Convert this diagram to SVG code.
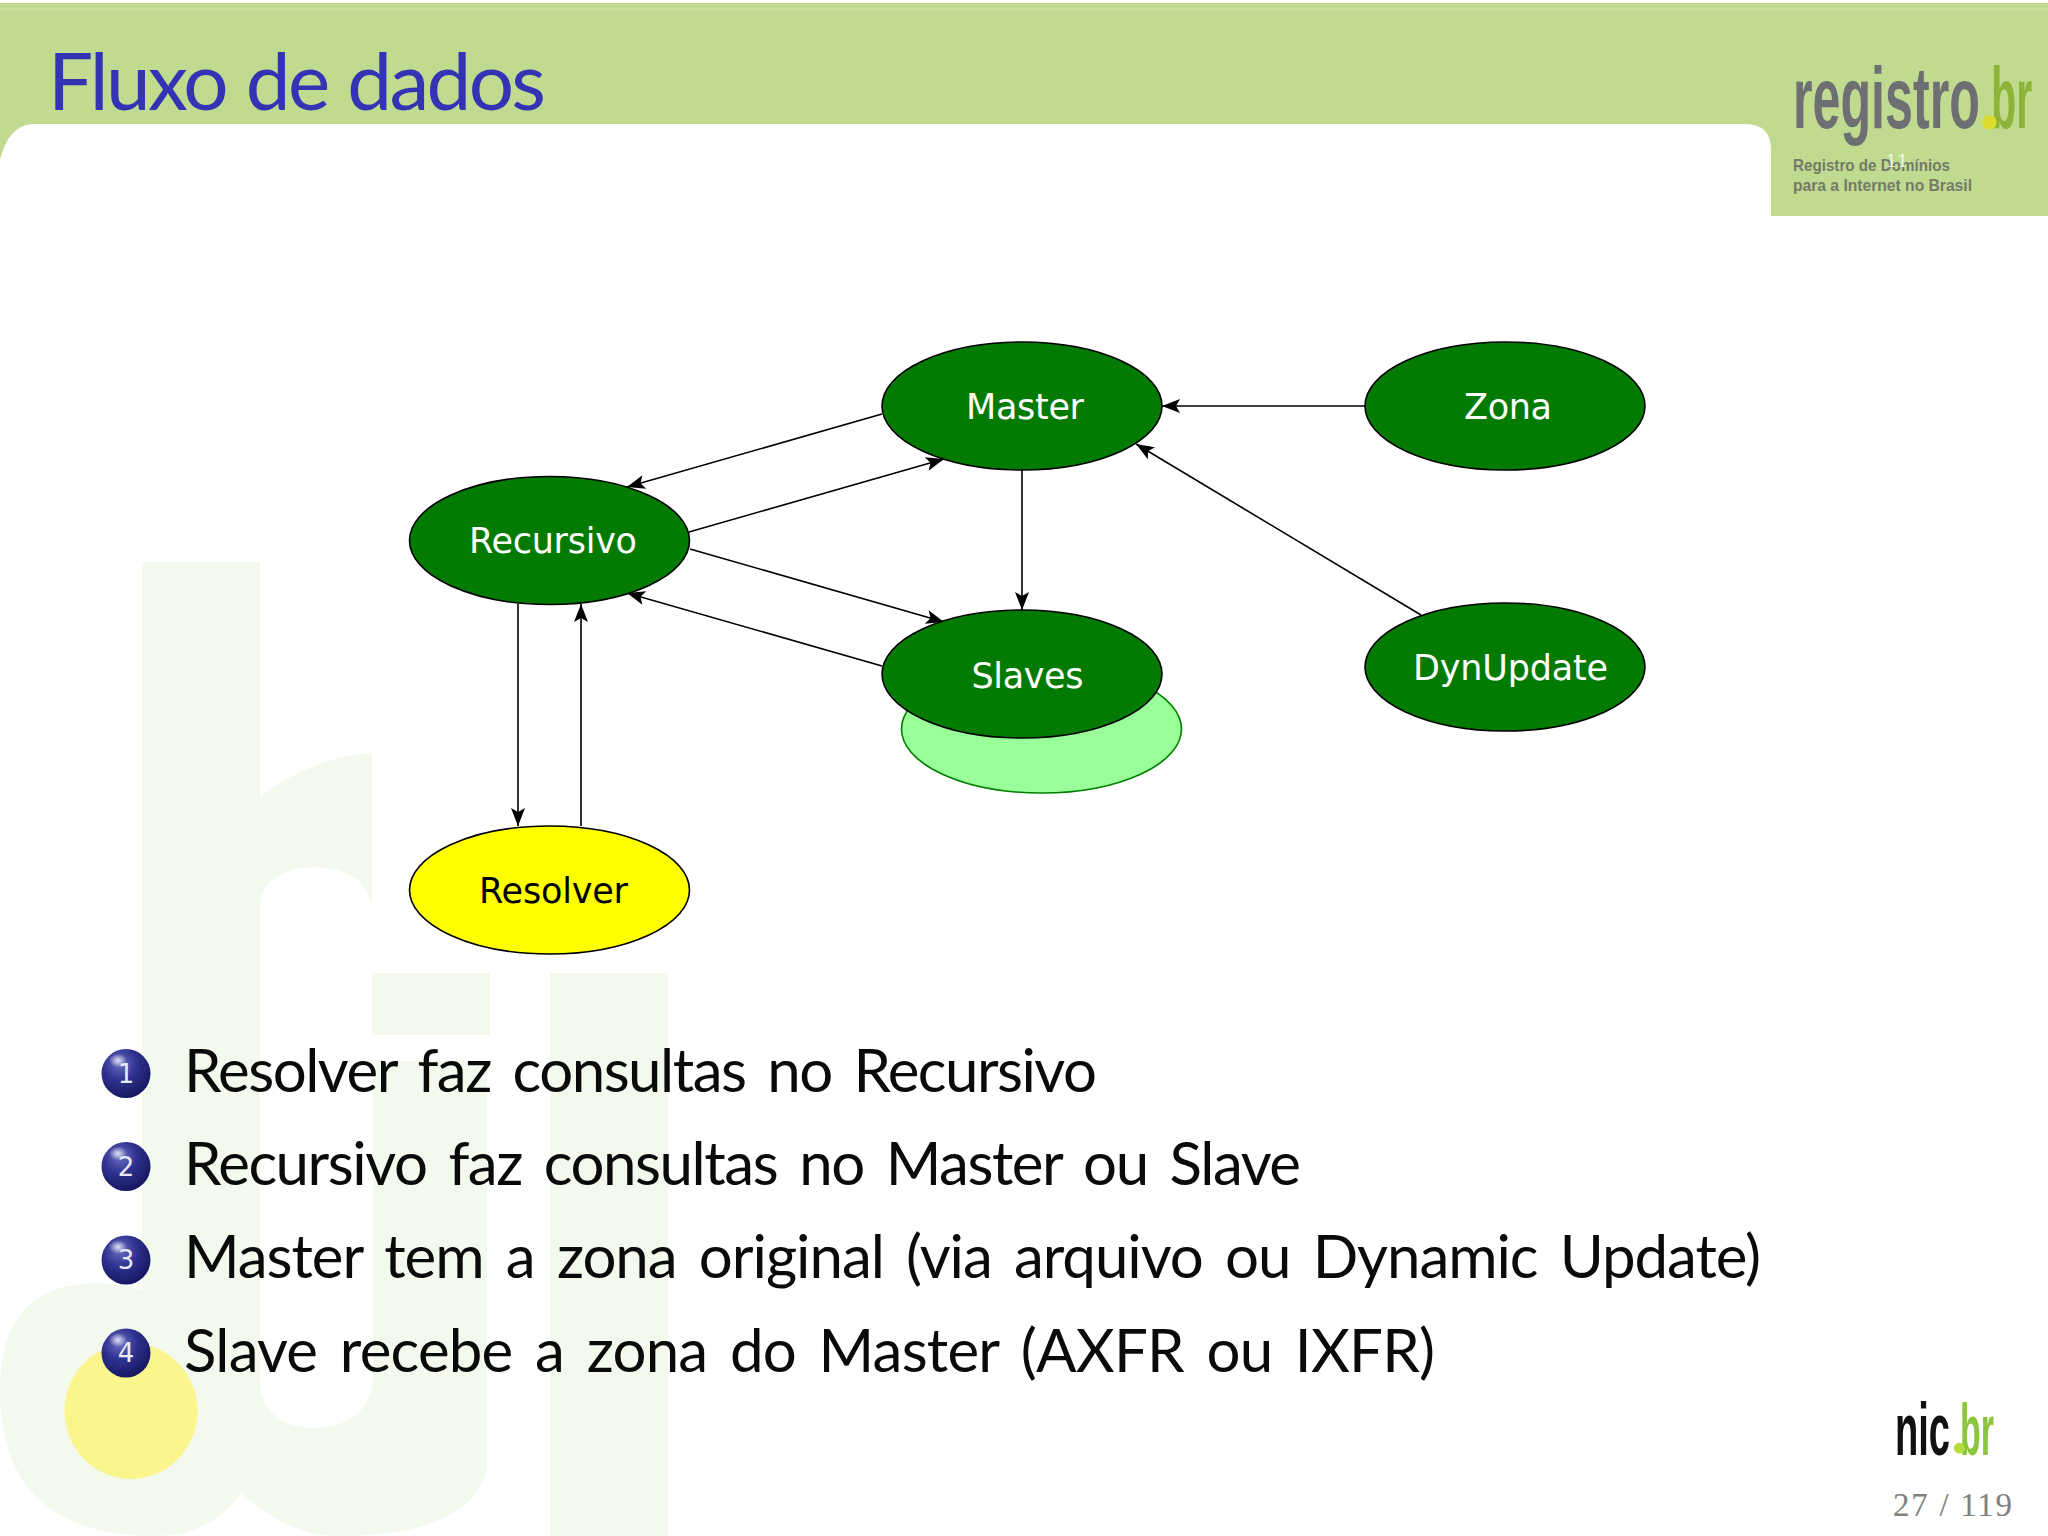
<svg xmlns="http://www.w3.org/2000/svg" width="2048" height="1536" viewBox="0 0 2048 1536">
<defs>
<style>
.wm{fill:#f4f9ee}
.node{stroke:#000;stroke-width:1.6}
.lbl{font-family:"DejaVu Sans",sans-serif;font-size:35px;fill:#fff}
.edge{fill:none;stroke:#000;stroke-width:1.6;marker-end:url(#arrow)}
.body{font-family:"Lato","Open Sans",sans-serif;font-size:60px;font-weight:400;fill:#0a0a0a;word-spacing:8px}
.num{font-family:"DejaVu Sans",sans-serif;font-size:26px;fill:#e8e8f6;text-anchor:middle}
.logo{font-family:"Liberation Sans",sans-serif;font-weight:700}
.dot{font-family:"Lato",sans-serif;font-weight:700}
.tag{font-family:"Liberation Sans",sans-serif;font-weight:700;font-size:17px;fill:#757a68}
</style>
<marker id="arrow" markerUnits="userSpaceOnUse" markerWidth="20" markerHeight="16" viewBox="0 0 20 16" refX="19" refY="8" orient="auto">
<path d="M1,1 L19,8 L1,15 L5,8 z" fill="#000"/>
</marker>
<radialGradient id="ball" cx="0.38" cy="0.3" r="0.75">
<stop offset="0" stop-color="#6a6ec0"/>
<stop offset="0.45" stop-color="#2f3290"/>
<stop offset="1" stop-color="#14155c"/>
</radialGradient>
<radialGradient id="shine" cx="0.5" cy="0.5" r="0.5">
<stop offset="0" stop-color="#dfe0f5"/>
<stop offset="1" stop-color="#dfe0f5" stop-opacity="0"/>
</radialGradient>
<g id="bullet">
<circle r="24.5" fill="url(#ball)"/>
<ellipse cx="-8" cy="-13" rx="9" ry="7" fill="url(#shine)"/>
</g>
</defs>
<rect width="2048" height="1536" fill="#fefffe"/>
<g id="watermark">
<path class="wm" d="M142,562 H260 V797 Q310,758 372,753 V907 Q365,867 312,867 Q265,870 260,903 V1385 Q265,1428 317,1428 Q368,1425 373,1380 V1061 H487 V1470 Q470,1536 335,1536 Q290,1536 241,1493 Q210,1536 156,1536 Q0,1536 0,1390 Q0,1283 98,1283 Q120,1283 142,1290 Z"/>
<path class="wm" d="M372,973 H490 V1035 H372 Z M550,973 H668 V1536 H550 Z"/>
<ellipse cx="131" cy="1411" rx="66.5" ry="68" fill="#fbf58e"/>
</g>
<g id="header">
<path d="M0,3 H2048 V216 H1771 V150 Q1771,124 1745,124 H32 Q8,126 0,160 Z" fill="#c0db8f"/>
<rect y="8" width="2048" height="2" fill="#c8e09b"/>
<text x="48" y="110" font-family="Lato,'Open Sans',sans-serif" font-size="80" fill="#3333b3" word-spacing="2" textLength="498" lengthAdjust="spacing">Fluxo de dados</text>
</g>
<g id="logo-registro">
<text class="logo" font-size="40" fill="#6d6f72" transform="translate(1793,128) scale(1.255,2.2)">registro</text>
<text class="logo" font-size="40" fill="#8fb339" transform="translate(1991,128) scale(1.03,2.2)">br</text>
<text class="dot" x="1978" y="129" font-size="95" fill="#dcdc2e">.</text>
<text class="tag" x="1793" y="171" textLength="157" lengthAdjust="spacingAndGlyphs">Registro de Domínios</text>
<text class="tag" x="1793" y="191" textLength="179" lengthAdjust="spacingAndGlyphs">para a Internet no Brasil</text>
<text x="1886" y="167" font-family="'DejaVu Serif',serif" font-size="17" fill="#f4f7ec" textLength="22">11</text>
</g>
<g id="connectors">
<line class="edge" x1="882" y1="414" x2="627" y2="487"/>
<line class="edge" x1="689" y1="532" x2="944" y2="459"/>
<line class="edge" x1="690" y1="549" x2="944" y2="622"/>
<line class="edge" x1="882" y1="666" x2="627" y2="593"/>
<line class="edge" x1="1022" y1="470" x2="1022" y2="610"/>
<line class="edge" x1="518" y1="604" x2="518" y2="826"/>
<line class="edge" x1="581" y1="826" x2="581" y2="604"/>
<line class="edge" x1="1365" y1="406" x2="1162" y2="406"/>
<line class="edge" x1="1421" y1="615" x2="1136" y2="444"/>
</g>
<g id="node-slaves-back"><ellipse cx="1041.5" cy="729" rx="140" ry="64" fill="#99ff99" stroke="#008000" stroke-width="1.6"/></g>
<g id="node-master"><ellipse class="node" cx="1022" cy="406" rx="140" ry="64" fill="#037b03"/><text class="lbl" x="966" y="419" textLength="118">Master</text></g>
<g id="node-recursivo"><ellipse class="node" cx="549.5" cy="540.5" rx="140" ry="64" fill="#037b03"/><text class="lbl" x="469" y="553" textLength="168">Recursivo</text></g>
<g id="node-slaves"><ellipse class="node" cx="1022" cy="674" rx="140" ry="64" fill="#037b03"/><text class="lbl" x="971.5" y="688" textLength="112">Slaves</text></g>
<g id="node-resolver"><ellipse class="node" cx="549.5" cy="890" rx="140" ry="64" fill="#ffff00"/><text class="lbl" x="479" y="903" textLength="149" style="fill:#000">Resolver</text></g>
<g id="node-zona"><ellipse class="node" cx="1505" cy="406" rx="140" ry="64" fill="#037b03"/><text class="lbl" x="1464" y="419" textLength="88">Zona</text></g>
<g id="node-dynupdate"><ellipse class="node" cx="1505" cy="667" rx="140" ry="64" fill="#037b03"/><text class="lbl" x="1413" y="680" textLength="195">DynUpdate</text></g>
<g id="list">
<use href="#bullet" x="126" y="1073.5"/><text class="num" x="126" y="1083">1</text>
<text class="body" x="184" y="1092" textLength="913" lengthAdjust="spacing">Resolver faz consultas no Recursivo</text>
<use href="#bullet" x="126" y="1166.5"/><text class="num" x="126" y="1176">2</text>
<text class="body" x="184" y="1185" textLength="1117" lengthAdjust="spacing">Recursivo faz consultas no Master ou Slave</text>
<use href="#bullet" x="126" y="1260"/><text class="num" x="126" y="1269">3</text>
<text class="body" x="184" y="1278" textLength="1577" lengthAdjust="spacing">Master tem a zona original (via arquivo ou Dynamic Update)</text>
<use href="#bullet" x="126" y="1353"/><text class="num" x="126" y="1362">4</text>
<text class="body" x="184" y="1372" textLength="1251" lengthAdjust="spacing">Slave recebe a zona do Master (AXFR ou IXFR)</text>
</g>
<g id="logo-nic">
<text class="logo" font-size="30" fill="#111" transform="translate(1895,1455) scale(1.27,2.5)">nic</text>
<text class="logo" font-size="30" fill="#8cc63f" transform="translate(1960,1455) scale(1.13,2.4)">br</text>
<text class="dot" x="1951" y="1453" font-size="70" fill="#b4dc3c">.</text>
</g>
<text id="page" x="1893" y="1516" font-family="'Liberation Serif',serif" font-size="33" fill="#808080" textLength="119">27 / 119</text>
</svg>
